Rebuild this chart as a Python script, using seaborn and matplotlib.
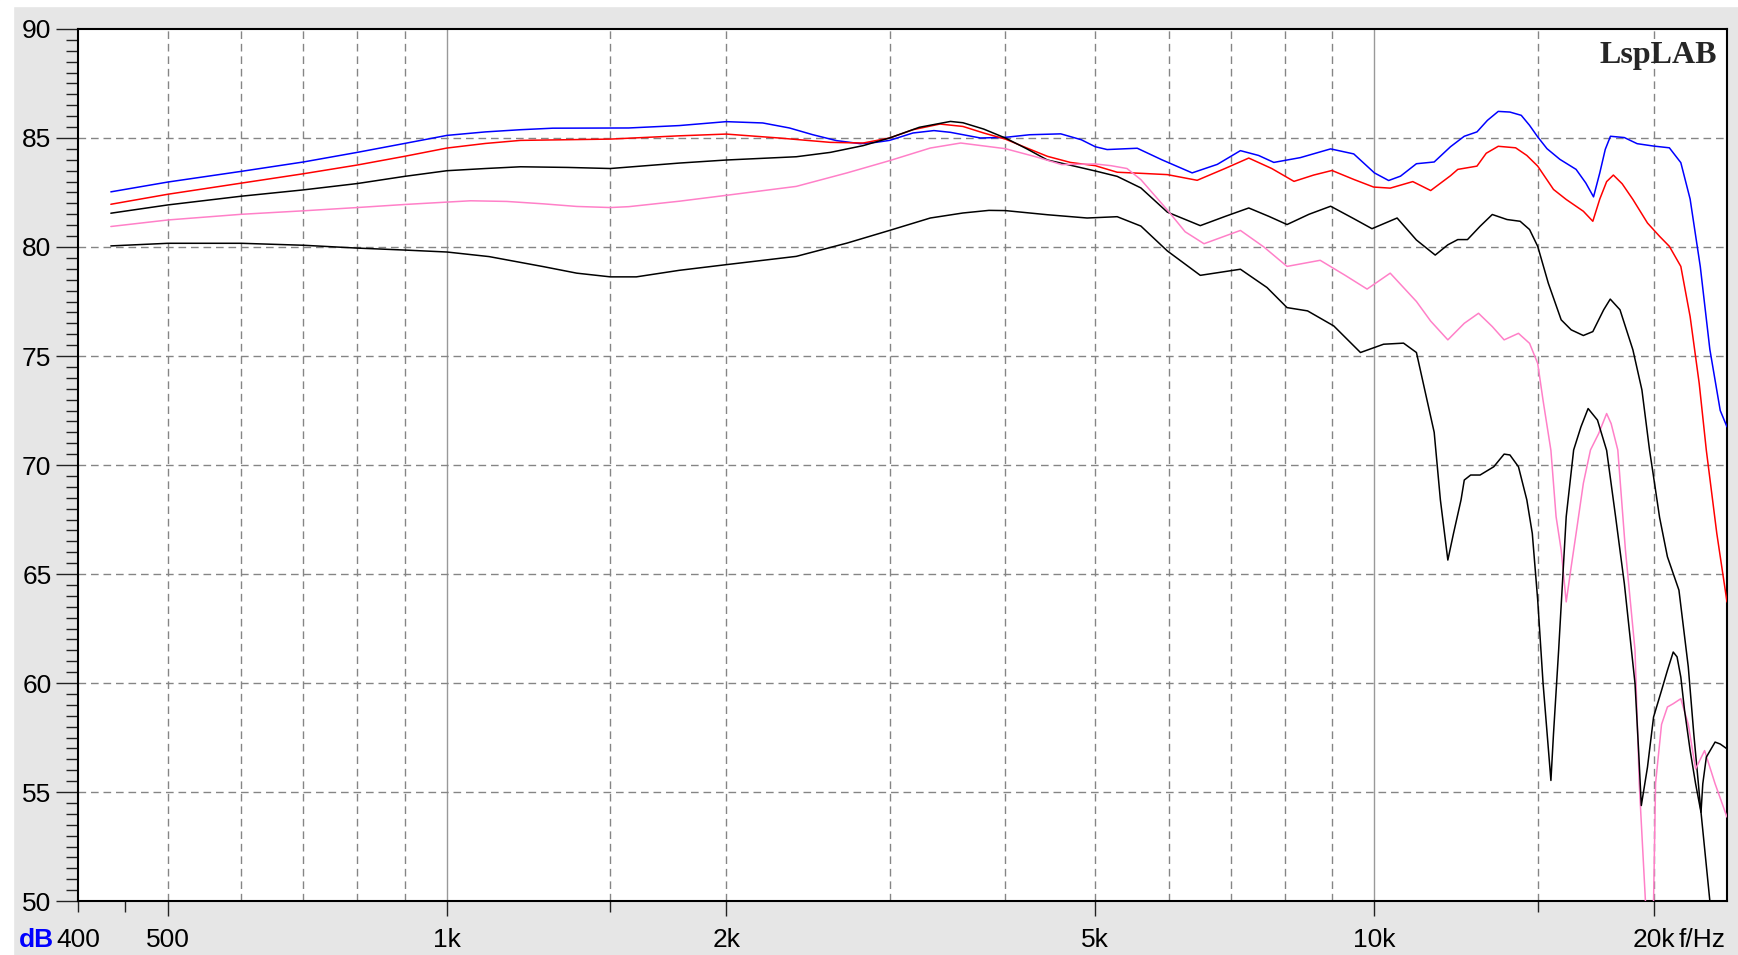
import numpy as np
import pandas as pd
import seaborn as sns
import matplotlib.pyplot as plt
from matplotlib.ticker import FixedLocator, FixedFormatter, MultipleLocator, NullFormatter

# frequency responses: (Hz, dB)
blue_pts = [(434, 82.53), (500, 82.98), (600, 83.47), (700, 83.9), (800, 84.34), (900, 84.75),
            (1000, 85.12), (1100, 85.28), (1200, 85.38), (1300, 85.45), (1570, 85.46),
            (1780, 85.57), (2000, 85.75), (2190, 85.69), (2340, 85.46), (2480, 85.15),
            (2630, 84.88), (2790, 84.74), (2900, 84.8), (3000, 84.89), (3180, 85.23),
            (3350, 85.34), (3490, 85.26), (3760, 85.0), (4000, 85.03), (4250, 85.15),
            (4590, 85.19), (4830, 84.92), (5000, 84.6), (5150, 84.47), (5550, 84.53),
            (5900, 84.0), (6360, 83.4), (6770, 83.79), (7170, 84.42), (7500, 84.2),
            (7790, 83.88), (8320, 84.1), (8970, 84.5), (9500, 84.27), (10000, 83.4),
            (10360, 83.05), (10670, 83.25), (11100, 83.82), (11600, 83.9), (12080, 84.6),
            (12500, 85.08), (12900, 85.28), (13240, 85.81), (13600, 86.22), (14000, 86.19),
            (14400, 86.04), (14700, 85.58), (15000, 85.05), (15350, 84.51), (15850, 84.02),
            (16500, 83.56), (16900, 82.94), (17230, 82.3), (17500, 83.4), (17740, 84.48),
            (17970, 85.08), (18600, 85.02), (19200, 84.74), (20000, 84.63), (20800, 84.55),
            (21400, 83.87), (21900, 82.2), (22460, 79.1), (23000, 75.3), (23600, 72.5),
            (24000, 71.75)]

red_pts = [(434, 81.96), (500, 82.42), (600, 82.93), (700, 83.36), (800, 83.76), (900, 84.16),
           (1000, 84.54), (1100, 84.75), (1200, 84.89), (1500, 84.95), (1780, 85.1),
           (2000, 85.18), (2280, 85.0), (2590, 84.8), (2810, 84.77), (3000, 85.0), (3180, 85.38),
           (3400, 85.64), (3600, 85.53), (3790, 85.23), (4000, 84.95), (4220, 84.54),
           (4440, 84.16), (4700, 83.88), (5000, 83.73), (5280, 83.43), (5600, 83.38),
           (5980, 83.32), (6440, 83.06), (6900, 83.6), (7320, 84.08), (7750, 83.6),
           (8190, 83.01), (8600, 83.3), (9000, 83.51), (9500, 83.1), (9980, 82.75),
           (10400, 82.7), (11000, 83.0), (11500, 82.59), (12080, 83.27), (12300, 83.56),
           (12900, 83.71), (13200, 84.3), (13600, 84.62), (14200, 84.55), (14600, 84.2),
           (15000, 83.71), (15600, 82.64), (16100, 82.18), (16800, 81.64), (17200, 81.18),
           (17500, 82.2), (17800, 83.0), (18100, 83.3), (18500, 82.9), (19000, 82.18),
           (19700, 81.1), (20300, 80.49), (20800, 80.03), (21400, 79.11), (21900, 76.81),
           (22400, 73.74), (22800, 70.67), (23400, 66.86), (24000, 63.72)]

black1_pts = [(434, 81.55), (500, 81.93), (600, 82.33), (700, 82.62), (800, 82.91), (900, 83.24),
              (1000, 83.5), (1100, 83.6), (1200, 83.68), (1350, 83.65), (1500, 83.6),
              (1780, 83.85), (2000, 83.99), (2380, 84.14), (2590, 84.34), (2810, 84.65),
              (3000, 85.0), (3230, 85.49), (3490, 85.76), (3600, 85.7), (3790, 85.41),
              (4000, 85.0), (4220, 84.5), (4440, 83.99), (4670, 83.78), (5020, 83.47),
              (5280, 83.24), (5600, 82.71), (5980, 81.6), (6490, 80.98), (6900, 81.4),
              (7320, 81.79), (7700, 81.4), (8050, 81.03), (8500, 81.5), (8970, 81.87),
              (9500, 81.3), (9940, 80.84), (10580, 81.33), (11100, 80.32), (11630, 79.63),
              (12000, 80.1), (12300, 80.34), (12600, 80.34), (13000, 80.95), (13400, 81.49),
              (13900, 81.26), (14360, 81.18), (14700, 80.8), (15000, 80.03), (15400, 78.34),
              (15900, 76.66), (16300, 76.2), (16800, 75.94), (17200, 76.12), (17670, 77.12),
              (17960, 77.61), (18400, 77.12), (19000, 75.28), (19430, 73.44), (19800, 70.69),
              (20000, 69.46), (20300, 67.6), (20700, 65.79), (21300, 64.26), (21800, 60.74),
              (22100, 57.67), (22500, 54.07), (23000, 50.0), (23500, 47.0)]

pink_pts = [(434, 80.94), (500, 81.24), (600, 81.5), (700, 81.66), (800, 81.81), (900, 81.95),
            (1000, 82.06), (1060, 82.12), (1160, 82.09), (1270, 81.98), (1380, 81.86),
            (1500, 81.81), (1570, 81.85), (1780, 82.1), (2000, 82.37), (2380, 82.78),
            (2700, 83.4), (3000, 83.96), (3320, 84.54), (3580, 84.77), (4000, 84.51),
            (4320, 84.13), (4600, 83.78), (5000, 83.81), (5200, 83.73), (5410, 83.6),
            (5600, 83.09), (5980, 81.7), (6250, 80.7), (6550, 80.15), (7170, 80.76),
            (7600, 80.0), (8050, 79.11), (8740, 79.39), (9300, 78.7), (9820, 78.07),
            (10400, 78.8), (11100, 77.5), (11500, 76.6), (12000, 75.74), (12500, 76.5),
            (12950, 76.96), (13400, 76.35), (13800, 75.74), (14300, 76.04), (14700, 75.58),
            (15000, 74.66), (15200, 72.97), (15500, 70.67), (15700, 67.63), (15900, 66.1),
            (16100, 63.72), (16300, 65.33), (16500, 66.86), (16800, 69.16), (17100, 70.69),
            (17450, 71.44), (17800, 72.36), (18000, 71.9), (18300, 70.69), (18650, 66.1),
            (19100, 61.5), (19300, 55.4), (19600, 50.0), (19800, 46.0), (20000, 50.0),
            (20100, 55.4), (20400, 58.1), (20700, 58.9), (21000, 59.05), (21400, 59.28),
            (21800, 58.1), (22200, 56.06), (22700, 56.9), (23300, 55.38), (24000, 53.85)]

black2_pts = [(434, 80.05), (500, 80.17), (600, 80.17), (700, 80.08), (800, 79.95), (900, 79.86),
              (1000, 79.77), (1110, 79.56), (1270, 79.1), (1380, 78.8), (1500, 78.63),
              (1600, 78.63), (1780, 78.93), (2000, 79.19), (2380, 79.57), (2700, 80.18),
              (3000, 80.76), (3320, 81.33), (3600, 81.56), (3840, 81.68), (4000, 81.67),
              (4440, 81.48), (4900, 81.33), (5280, 81.39), (5600, 80.96), (5980, 79.82),
              (6490, 78.7), (7170, 78.98), (7660, 78.14), (8050, 77.22), (8470, 77.07),
              (9040, 76.38), (9660, 75.16), (10230, 75.54), (10750, 75.59), (11100, 75.16),
              (11600, 71.5), (11780, 68.4), (12000, 65.64), (12170, 66.86), (12400, 68.4),
              (12500, 69.31), (12700, 69.54), (13000, 69.54), (13450, 69.92), (13800, 70.5),
              (14000, 70.46), (14300, 69.92), (14600, 68.4), (14800, 66.86), (15000, 63.8),
              (15200, 60.0), (15500, 55.53), (15600, 57.67), (15800, 61.5), (16100, 67.63),
              (16400, 70.69), (16700, 71.75), (17000, 72.59), (17400, 72.06), (17800, 70.67),
              (18200, 67.63), (18600, 64.56), (19100, 59.97), (19270, 56.91), (19400, 54.38),
              (19700, 56.14), (20000, 58.44), (20400, 59.66), (20700, 60.58), (21000, 61.42),
              (21200, 61.2), (21400, 60.27), (21600, 58.74), (21900, 56.91), (22200, 55.38),
              (22500, 54.07), (22600, 55.38), (22800, 56.6), (23300, 57.29), (23600, 57.2),
              (24000, 56.98)]

curves = {"blue": blue_pts, "red": red_pts, "black1": black1_pts,
          "pink": pink_pts, "black2": black2_pts}
colors = {"blue": "#0000ff", "red": "#ff0000", "black1": "#000000",
          "pink": "#ff80c8", "black2": "#000000"}

df = pd.concat([pd.DataFrame(pts, columns=["freq", "spl"]).assign(curve=name)
                for name, pts in curves.items()], ignore_index=True)

sns.set_theme(style="white")
plt.rcParams['font.family'] = ['Liberation Sans', 'DejaVu Sans']

W, H = 1738, 955
fig = plt.figure(figsize=(W / 100, H / 100), dpi=100)
fig.patch.set_facecolor("#e6e6e6")
fig.add_artist(plt.Rectangle((0, 0), 13 / W, 1, transform=fig.transFigure,
                             color="white", zorder=-5))
fig.add_artist(plt.Rectangle((0, 1 - 6 / H), 1, 6 / H, transform=fig.transFigure,
                             color="white", zorder=-5))

ax = fig.add_axes([78 / W, (H - 901) / H, (1727 - 78) / W, (901 - 29) / H])
ax.set_facecolor("white")
ax.set_xscale("log")

# grid
for fx in [500, 600, 700, 800, 900, 1500, 2000, 3000, 4000, 5000, 6000, 7000, 8000, 9000,
           15000, 20000]:
    ax.axvline(fx, color="#858585", lw=1.0, ls=(0, (5.5, 3.5)), zorder=1)
for fx in [1000, 10000]:
    ax.axvline(fx, color="#999999", lw=1.0, zorder=1)
for yy in range(55, 90, 5):
    ax.axhline(yy, color="#858585", lw=1.0, ls=(0, (5.5, 3.5)), zorder=1)

sns.lineplot(data=df, x="freq", y="spl", hue="curve", palette=colors, estimator=None,
             legend=False, lw=1.1, ax=ax, zorder=3)

ax.set_xlim(400, 24000)
ax.set_ylim(50, 90)
ax.set_xlabel("")
ax.set_ylabel("")

ax.xaxis.set_major_locator(FixedLocator([500, 1000, 2000, 5000, 10000, 20000]))
ax.xaxis.set_major_formatter(FixedFormatter(["500", "1k", "2k", "5k", "10k", "20k"]))
ax.xaxis.set_minor_locator(FixedLocator([400, 450, 1500, 15000]))
ax.xaxis.set_minor_formatter(FixedFormatter(["400", "", "", ""]))
ax.yaxis.set_major_locator(MultipleLocator(5))
ax.yaxis.set_minor_locator(MultipleLocator(0.5))
ax.yaxis.set_minor_formatter(NullFormatter())

fs = 19
ax.tick_params(axis="x", which="major", direction="out", length=11, width=1, color="#222222",
               pad=8.4, labelsize=fs, labelcolor="black", bottom=True)
ax.tick_params(axis="x", which="minor", direction="out", length=8, width=1, color="#222222",
               pad=11.4, labelsize=fs, labelcolor="black", bottom=True)
ax.tick_params(axis="y", which="major", direction="out", length=15.6, width=1, color="#222222",
               pad=3.5, labelsize=fs, labelcolor="black", left=True)
ax.tick_params(axis="y", which="minor", direction="out", length=8.4, width=1, color="#222222",
               left=True)

for s in ax.spines.values():
    s.set_color("black")
    s.set_linewidth(1.5)

ax.text(0.9939, 0.961, "LspLAB", transform=ax.transAxes, ha="right", va="baseline",
        fontsize=23, fontweight="bold", family=["Liberation Serif", "DejaVu Serif"])
fig.text(19 / W, (H - 947) / H, "dB", color="#0000ff", fontsize=fs, fontweight="bold",
         ha="left", va="baseline")
fig.text(1726 / W, (H - 947) / H, "f/Hz", color="black", fontsize=fs, ha="right", va="baseline")

fig.savefig("out.png", dpi=100)
